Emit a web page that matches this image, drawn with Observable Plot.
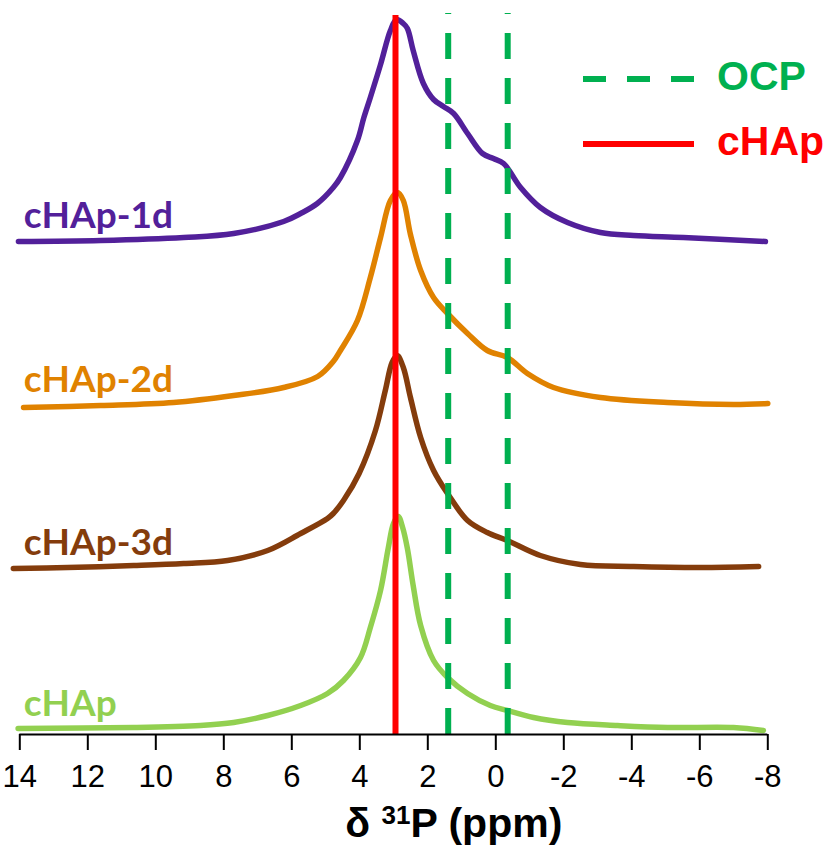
<!DOCTYPE html>
<html><head><meta charset="utf-8">
<script src="https://cdn.jsdelivr.net/npm/d3@7"></script>
<script src="https://cdn.jsdelivr.net/npm/@observablehq/plot@0.6"></script>
<style>
html,body{margin:0;padding:0;background:#fff;}
#wrap{position:relative;width:837px;height:852px;}
#legend{position:absolute;left:0;top:0;pointer-events:none;}
</style></head><body><div id="wrap"></div>
<script>
// x-axis ticks (ppm)
const xTicks = [14,12,10,8,6,4,2,0,-2,-4,-6,-8];

// series
const seriesNames = ["cHAp-1d","cHAp-2d","cHAp-3d","cHAp"];
const seriesColors = ["#52209a","#e08200","#843c0c","#92d050"];
const seriesOffsets = [494, 330, 167, 6]; // vertical stacking offsets (a.u.)

const ppm_1d = [14.04,11.62,9.18,7.71,6.24,5.74,5.25,4.78,4.57,4.07,3.88,3.69,3.39,3.10,2.92,2.72,2.60,2.43,2.13,1.83,1.54,1.24,0.83,0.39,0.07,-0.23,-0.73,-1.31,-2.11,-3.08,-4.05,-5.52,-7.93];
const int_1d = [-1,0,3,7,19,27,37,53,63,100,123,143,176,210,221,217,212,190,157,141,134,127,107,87,82,77,53,33,18,8,5,3,-1];

const ppm_2d = [13.89,11.62,9.48,7.71,6.24,5.24,4.78,4.57,4.07,3.69,3.39,3.10,2.89,2.72,2.51,2.21,1.83,1.42,0.83,0.25,-0.34,-0.93,-1.70,-3.08,-5.05,-6.99,-8.0];
const int_2d = [-3,-1,2,9,17,28,43,54,84,127,167,204,212,204,170,134,107,91,71,54,47,31,17,7,2,0,1];

const ppm_3d = [14.19,12.60,10.65,9.18,7.89,6.71,5.74,4.95,4.78,4.48,4.02,3.54,3.25,3.05,2.90,2.72,2.51,2.21,1.83,1.42,0.83,0.25,-0.34,-1.31,-2.49,-4.05,-6.02,-7.73];
const int_3d = [-1,0,2,4,7,17,34,49,54,67,94,137,177,205,212,200,170,130,97,74,47,35,27,12,3,1,0,1];

const ppm_0 = [14.05,10.66,8.69,7.71,6.71,5.74,4.95,4.48,3.98,3.69,3.39,3.16,3.01,2.87,2.74,2.60,2.43,2.21,1.83,1.42,0.83,0.16,-0.34,-1.11,-2.11,-3.58,-5.05,-6.99,-7.87];
const int_0 = [0,1,3,6,13,23,35,48,71,101,138,181,205,212,201,180,143,103,68,51,35,23,18,11,6,3,1,1,-2];

// reference lines
const ocpShifts = [1.4, -0.35];
const chapShifts = [2.95];
const legendNames = ["OCP","cHAp"];
const legendColors = ["#00b050","#ff0000"];
const xLabel = ["δ ", "31", "P (ppm)"];

const seriesPPM = [ppm_1d, ppm_2d, ppm_3d, ppm_0];
const seriesInt = [int_1d, int_2d, int_3d, int_0];
const rows = [];
seriesNames.forEach((name, s) => {
  seriesPPM[s].forEach((p, i) => rows.push({name, ppm: p, y: seriesOffsets[s] + seriesInt[s][i]}));
});
const labelRows = seriesNames.map((name, s) => ({name, y: seriesOffsets[s], color: seriesColors[s]}));

const chart = Plot.plot({
  width: 837, height: 852,
  marginTop: 13, marginBottom: 118, marginLeft: 19.3, marginRight: 69.7,
  style: {fontFamily: "'Liberation Sans', Arial, sans-serif", background: "#fff", color: "#000"},
  x: {domain: [14, -8]},
  y: {domain: [0, 721], axis: null},
  color: {domain: seriesNames, range: seriesColors},
  marks: [
    Plot.line(rows, {x: "ppm", y: "y", z: "name", stroke: d => d.name, strokeWidth: 5.5, curve: "catmull-rom", strokeLinejoin: "round", strokeLinecap: "round"}),
    Plot.text(labelRows, {frameAnchor: "left", y: "y", dx: 4, dy: -13, text: "name", fill: "color", textAnchor: "start", lineAnchor: "bottom", fontSize: 37, fontWeight: "bold", fontFamily: "Lato, sans-serif"}),
    Plot.ruleX(ocpShifts, {x: d => d, y1: 0, y2: 721, stroke: legendColors[0], strokeWidth: 6, strokeDasharray: "26,19"}),
    Plot.ruleX(chapShifts, {x: d => d, y1: 0, y2: 719, stroke: legendColors[1], strokeWidth: 6}),
    Plot.ruleY([0], {stroke: "#000", strokeWidth: 2}),
    Plot.axisX({ticks: xTicks, tickFormat: d => String(d), tickSize: 16, tickPadding: 14, fontSize: 31, strokeWidth: 2, stroke: "#000", fill: "#000", label: null}),
    Plot.text([xLabel.join("")], {frameAnchor: "bottom", dx: 60, dy: 89, lineAnchor: "middle", textAnchor: "middle", fontSize: 41, fontWeight: "bold", fill: "#000", className: "xtitle"})
  ]
});

// superscript in axis title
d3.select(chart).selectAll(".xtitle text").each(function() {
  const t = d3.select(this);
  t.text(null);
  t.append("tspan").text(xLabel[0]);
  t.append("tspan").attr("font-size", 26).attr("dy", -13).text(xLabel[1]);
  t.append("tspan").attr("dy", 13).text(xLabel[2]);
});

const wrap = document.getElementById("wrap");
wrap.appendChild(chart);

// legend overlay
const leg = d3.select(wrap).append("svg").attr("id", "legend").attr("width", 837).attr("height", 852);
const legRows = [{dash: "23,21", y: 79}, {dash: null, y: 144}];
legendNames.forEach((n, i) => {
  const g = leg.append("g");
  g.append("line").attr("x1", 583).attr("x2", 694).attr("y1", legRows[i].y).attr("y2", legRows[i].y)
    .attr("stroke", legendColors[i]).attr("stroke-width", 6).attr("stroke-dasharray", legRows[i].dash);
  g.append("text").attr("x", 717).attr("y", legRows[i].y + 11).attr("fill", legendColors[i])
    .attr("font-family", "'Liberation Sans', Arial, sans-serif").attr("font-weight", "bold").attr("font-size", 41).text(n);
});
</script></body></html>
